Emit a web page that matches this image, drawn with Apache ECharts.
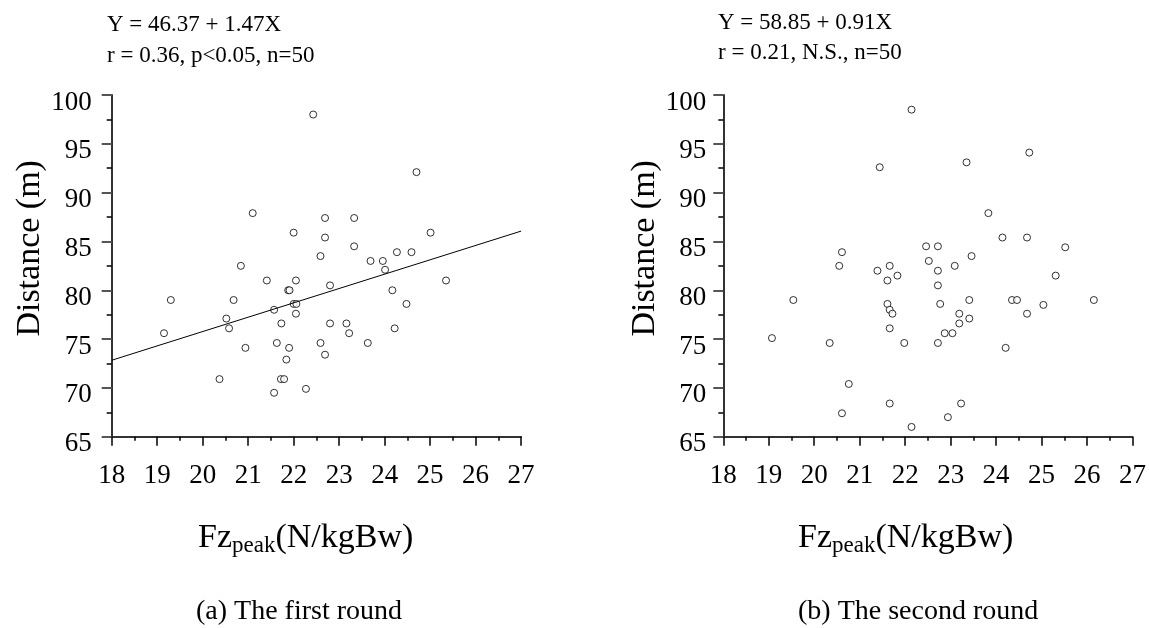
<html>
<head>
<meta charset="utf-8">
<title>Fz peak vs Distance</title>
<script src="https://cdn.jsdelivr.net/npm/echarts@6/dist/echarts.min.js"></script>
<style>
  body { margin: 0; background: #fff; }
</style>
</head>
<body>
<div id="chartmain" style="width: 1149px; height: 628px;"></div>
<script type="text/javascript">
    // first round (a)
    var round1X = [21.10, 20.84, 22.43, 24.70, 22.69, 23.33, 22.00, 22.69, 25.01, 23.33,
                   22.59, 24.27, 24.59, 23.69, 23.96, 24.01, 21.41, 19.30, 20.68, 20.52,
                   20.58, 19.15, 20.94, 20.37, 22.05, 21.88, 21.91, 22.80, 24.17, 21.57,
                   22.00, 22.06, 22.05, 24.48, 21.73, 22.80, 23.16, 23.22, 24.22, 21.63,
                   21.90, 22.59, 23.63, 21.84, 22.69, 21.72, 21.79, 22.27, 21.57, 25.35];
    var round1Y = [87.9, 82.5, 98.0, 92.1, 87.4, 87.4, 85.9, 85.4, 85.9, 84.5,
                   83.5, 83.9, 83.9, 83.0, 83.0, 82.1, 81.0, 79.0, 79.0, 77.1,
                   76.1, 75.6, 74.1, 70.9, 81.0, 80.0, 80.0, 80.5, 80.0, 78.0,
                   78.6, 78.6, 77.6, 78.6, 76.6, 76.6, 76.6, 75.6, 76.1, 74.6,
                   74.1, 74.6, 74.6, 72.9, 73.4, 70.9, 70.9, 69.9, 69.5, 81.0];
    // regression line Y = 46.37 + 1.47X, end points
    var fitX = [18, 27];
    var fitY = [72.83, 86.06];

    // second round (b)
    var round2X = [19.07, 22.14, 21.44, 20.61, 22.46, 22.72, 20.55, 22.52, 21.66, 21.39,
                   22.72, 23.09, 21.83, 21.61, 22.72, 19.54, 21.61, 21.66, 21.72, 22.77,
                   23.19, 23.19, 21.66, 22.87, 23.04, 20.34, 21.98, 22.72, 20.76, 21.66,
                   20.61, 23.23, 22.94, 22.14, 23.35, 24.73, 23.83, 24.14, 24.68, 25.52,
                   23.46, 25.31, 23.41, 24.35, 24.46, 26.15, 25.04, 24.68, 23.41, 24.21];
    var round2Y = [75.1, 98.5, 92.6, 83.9, 84.5, 84.5, 82.5, 83.0, 82.5, 82.0,
                   82.0, 82.5, 81.5, 81.0, 80.5, 79.0, 78.6, 78.0, 77.6, 78.6,
                   77.6, 76.6, 76.1, 75.6, 75.6, 74.6, 74.6, 74.6, 70.4, 68.4,
                   67.4, 68.4, 67.0, 66.0, 93.1, 94.1, 87.9, 85.4, 85.4, 84.4,
                   83.5, 81.5, 79.0, 79.0, 79.0, 79.0, 78.5, 77.6, 77.1, 74.1];

    var serif = "'Liberation Serif', 'Times New Roman', serif";

    function pairs(xs, ys) {
        var out = [];
        for (var i = 0; i < xs.length; i++) {
            out.push([xs[i], ys[i]]);
        }
        return out;
    }

    function yAxisFor(grid, gap, labelMargin) {
        return {
            type: 'value', gridIndex: grid, min: 65, max: 100, interval: 5,
            name: 'Distance (m)', nameLocation: 'middle', nameGap: gap, nameRotate: 90,
            nameTextStyle: { fontFamily: serif, fontSize: 34, color: '#000', padding: [0, 0, 0, 35] },
            axisLine: { show: true, lineStyle: { color: '#333', width: 2 } },
            axisTick: { show: true, length: 10, lineStyle: { color: '#555', width: 2 } },
            minorTick: { show: true, splitNumber: 2, length: 5, lineStyle: { color: '#000', width: 1.5 } },
            axisLabel: {
                fontFamily: serif, fontSize: 27, color: '#000', margin: labelMargin,
                verticalAlign: 'top', lineHeight: 15
            },
            splitLine: { show: false }
        };
    }

    function xAxisFor(grid) {
        return {
            type: 'value', gridIndex: grid, min: 18, max: 27, interval: 1, position: 'bottom',
            axisLine: { show: true, onZero: false, lineStyle: { color: '#333', width: 2 } },
            axisTick: { show: true, length: 9, lineStyle: { color: '#000', width: 1.5 } },
            minorTick: { show: true, splitNumber: 2, length: 4, lineStyle: { color: '#000', width: 1.5 } },
            axisLabel: { fontFamily: serif, fontSize: 27, color: '#000', margin: 26 },
            splitLine: { show: false }
        };
    }

    function titleText(left) {
        return {
            type: 'text', left: left, top: 521,
            style: {
                text: '{a|Fz}{b|peak}{a|(N/kgBw)}', fill: '#000',
                rich: {
                    a: { fontFamily: serif, fontSize: 34, lineHeight: 36, verticalAlign: 'top' },
                    b: { fontFamily: serif, fontSize: 23, lineHeight: 14, verticalAlign: 'bottom' }
                }
            }
        };
    }

    var myChart = echarts.init(document.getElementById('chartmain'));

    var option = {
        backgroundColor: '#fff',
        animation: false,
        grid: [
            { left: 111.7, top: 95, width: 409.4, height: 341.7 },
            { left: 723.3, top: 95, width: 409.4, height: 341.7 }
        ],
        xAxis: [xAxisFor(0), xAxisFor(1)],
        yAxis: [yAxisFor(0, 57, 20), yAxisFor(1, 48, 17)],
        series: [
            {
                type: 'scatter', xAxisIndex: 0, yAxisIndex: 0, clip: false,
                symbol: 'circle', symbolSize: 7,
                itemStyle: { color: '#fff', borderColor: '#000', borderWidth: 1 },
                data: pairs(round1X, round1Y)
            },
            {
                type: 'line', xAxisIndex: 0, yAxisIndex: 0, symbol: 'none',
                lineStyle: { color: '#000', width: 1 },
                data: pairs(fitX, fitY)
            },
            {
                type: 'scatter', xAxisIndex: 1, yAxisIndex: 1, clip: false,
                symbol: 'circle', symbolSize: 7,
                itemStyle: { color: '#fff', borderColor: '#000', borderWidth: 1 },
                data: pairs(round2X, round2Y)
            }
        ],
        graphic: [
            { type: 'text', left: 107, top: 13, style: { text: 'Y = 46.37 + 1.47X', font: '23px ' + serif, fill: '#000' } },
            { type: 'text', left: 107, top: 44, style: { text: 'r = 0.36, p<0.05, n=50', font: '23px ' + serif, fill: '#000' } },
            { type: 'text', left: 718, top: 11, style: { text: 'Y = 58.85 + 0.91X', font: '23px ' + serif, fill: '#000' } },
            { type: 'text', left: 718, top: 41, style: { text: 'r = 0.21, N.S., n=50', font: '23px ' + serif, fill: '#000' } },
            titleText(198),
            titleText(798),
            { type: 'text', left: 196, top: 598, style: { text: '(a) The first round', font: '28px ' + serif, fill: '#000' } },
            { type: 'text', left: 798, top: 598, style: { text: '(b) The second round', font: '28px ' + serif, fill: '#000' } }
        ]
    };

    myChart.setOption(option);
</script>
</body>
</html>
